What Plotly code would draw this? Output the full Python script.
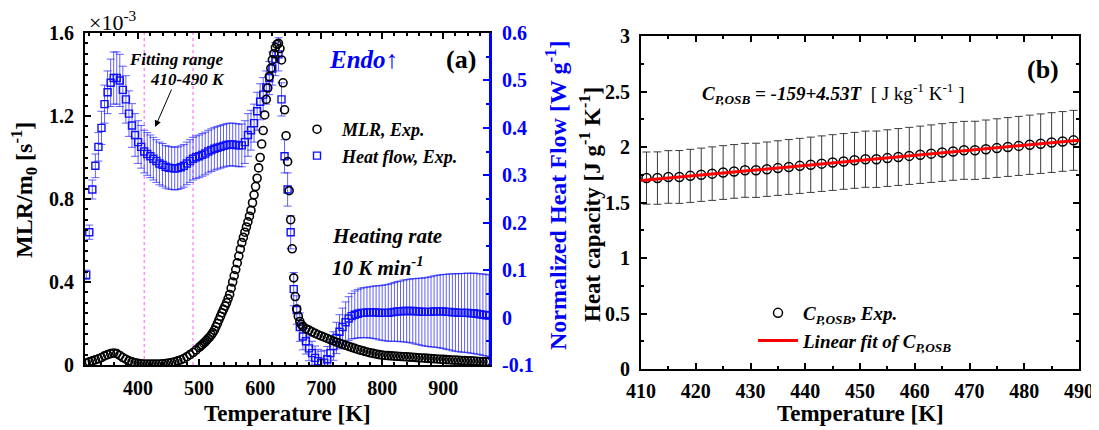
import plotly.graph_objects as go

# page is 1099x430; the HTML body has an 8 px margin, so the figure is 8 px smaller
PAGE_W, PAGE_H = 1099, 430
OFF = 8
W, H = PAGE_W - OFF, PAGE_H - OFF
FONT = "Liberation Serif"

# ---------------- Panel (a) data ----------------
# MLR / m0  [x 1e-3 s^-1], sampled finer where the curve is steep
temp_mlr_low = list(range(315, 500, 5))                    # 315 .. 495 K
mlr_low = [
    0.010, 0.015, 0.020, 0.025, 0.030, 0.036, 0.044, 0.050, 0.055, 0.058,
    0.055, 0.046, 0.036, 0.028, 0.020, 0.015, 0.011, 0.008, 0.006, 0.005,
    0.004, 0.004, 0.004, 0.004, 0.005, 0.006, 0.007, 0.009, 0.012, 0.015,
    0.020, 0.025, 0.031, 0.040, 0.050, 0.060, 0.072,
]
temp_mlr_mid = [v / 2 for v in range(1000, 1341, 5)]      # 500 .. 670 K, 2.5 K step
mlr_mid = [
    0.085, 0.091, 0.098, 0.105, 0.112, 0.120, 0.128, 0.136, 0.145, 0.156,
    0.168, 0.184, 0.200, 0.218, 0.235, 0.252, 0.268, 0.284, 0.300, 0.320,
    0.340, 0.370, 0.400, 0.430, 0.460, 0.492, 0.525, 0.558, 0.590, 0.615,
    0.640, 0.665, 0.690, 0.717, 0.745, 0.782, 0.820, 0.860, 0.900, 0.950,
    1.000, 1.065, 1.130, 1.205, 1.280, 1.335, 1.390, 1.430, 1.470, 1.500,
    1.530, 1.545, 1.550, 1.525, 1.470, 1.360, 1.230, 1.105, 0.980, 0.840,
    0.700, 0.560, 0.420, 0.330, 0.270, 0.235, 0.210, 0.195, 0.185,
]
temp_mlr_high = list(range(675, 980, 5))                   # 675 .. 975 K
mlr_high = [
    0.175, 0.168, 0.160, 0.153, 0.146, 0.140, 0.134, 0.128,
    0.122, 0.116, 0.110, 0.105, 0.100, 0.095, 0.090, 0.085, 0.080, 0.075,
    0.071, 0.067, 0.063, 0.059, 0.056, 0.053, 0.050, 0.048, 0.046, 0.045,
    0.044, 0.043, 0.042, 0.041, 0.040, 0.039, 0.038, 0.037, 0.036, 0.035,
    0.034, 0.033, 0.032, 0.031, 0.030, 0.029, 0.028, 0.027, 0.026, 0.025,
    0.024, 0.024, 0.023, 0.022, 0.021, 0.020, 0.020, 0.019, 0.018, 0.017,
    0.016, 0.016, 0.015,
]

# Normalized heat flow [W g^-1]
temp_hf = list(range(315, 980, 5))
heat_flow = [
    0.090, 0.180, 0.270, 0.320, 0.360, 0.400, 0.450, 0.475, 0.495, 0.505,
    0.505, 0.500, 0.480, 0.460, 0.430, 0.405, 0.385, 0.370, 0.360, 0.350,
    0.345, 0.340, 0.335, 0.330, 0.325, 0.322, 0.318, 0.316, 0.315, 0.314,
    0.315, 0.317, 0.320, 0.325, 0.330, 0.335, 0.338, 0.340, 0.343, 0.346,
    0.350, 0.353, 0.356, 0.358, 0.360, 0.362, 0.364, 0.365, 0.365, 0.364,
    0.363, 0.363, 0.370, 0.385, 0.395, 0.410, 0.435, 0.455, 0.470, 0.485,
    0.505, 0.525, 0.545, 0.555, 0.460, 0.340, 0.270, 0.180, 0.060, 0.016,
    -0.020, -0.040, -0.050, -0.065, -0.075, -0.085, -0.092, -0.096, -0.095, -0.088,
    -0.075, -0.060, -0.043, -0.030, -0.020, -0.010, -0.002, 0.003, 0.006, 0.008,
    0.010, 0.010, 0.011, 0.011, 0.011, 0.011, 0.010, 0.010, 0.010, 0.010,
    0.011, 0.012, 0.013, 0.013, 0.014, 0.014, 0.014, 0.014, 0.013, 0.013,
    0.012, 0.012, 0.012, 0.012, 0.013, 0.013, 0.013, 0.013, 0.012, 0.012,
    0.011, 0.011, 0.010, 0.010, 0.010, 0.010, 0.009, 0.009, 0.008, 0.007,
    0.006, 0.005, 0.004,
]
heat_flow_err = [
    0.010, 0.015, 0.020, 0.025, 0.030, 0.035, 0.040, 0.045, 0.050, 0.055,
    0.055, 0.055, 0.050, 0.050, 0.048, 0.046, 0.045, 0.045, 0.045, 0.045,
    0.045, 0.045, 0.045, 0.045, 0.045, 0.045, 0.045, 0.045, 0.045, 0.045,
    0.045, 0.045, 0.045, 0.045, 0.045, 0.045, 0.045, 0.045, 0.045, 0.045,
    0.045, 0.045, 0.045, 0.045, 0.045, 0.045, 0.045, 0.045, 0.045, 0.045,
    0.045, 0.045, 0.045, 0.045, 0.042, 0.040, 0.040, 0.038, 0.036, 0.035,
    0.035, 0.035, 0.035, 0.035, 0.035, 0.035, 0.035, 0.035, 0.035, 0.030,
    0.030, 0.028, 0.027, 0.026, 0.025, 0.025, 0.025, 0.025, 0.026, 0.027,
    0.028, 0.030, 0.033, 0.036, 0.040, 0.043, 0.046, 0.048, 0.050, 0.051,
    0.052, 0.053, 0.053, 0.054, 0.055, 0.056, 0.057, 0.058, 0.059, 0.060,
    0.061, 0.062, 0.063, 0.064, 0.065, 0.066, 0.067, 0.068, 0.069, 0.070,
    0.071, 0.072, 0.073, 0.074, 0.075, 0.076, 0.077, 0.078, 0.079, 0.080,
    0.081, 0.082, 0.082, 0.083, 0.083, 0.084, 0.084, 0.085, 0.085, 0.085,
    0.086, 0.086, 0.086,
]

fit_range = [410, 490]  # K, dashed guide lines

hf_tick_vals = [-0.1, 0, 0.1, 0.2, 0.3, 0.4, 0.5, 0.6]
hf_tick_text = ["-0.1", "0", "0.1", "0.2", "0.3", "0.4", "0.5", "0.6"]

# ---------------- Panel (b) data ----------------
temp_b = list(range(411, 490, 2))  # K
cp_exp = [
    1.72, 1.72, 1.73, 1.73, 1.74, 1.75, 1.76, 1.77, 1.78, 1.79,
    1.79, 1.80, 1.81, 1.82, 1.83, 1.84, 1.85, 1.86, 1.87, 1.88,
    1.89, 1.89, 1.90, 1.91, 1.92, 1.93, 1.94, 1.95, 1.96, 1.97,
    1.97, 1.98, 1.99, 2.00, 2.01, 2.02, 2.03, 2.04, 2.05, 2.06,
]
cp_err = [
    0.235, 0.236, 0.237, 0.238, 0.239, 0.240, 0.241, 0.242, 0.242, 0.243,
    0.244, 0.245, 0.246, 0.247, 0.248, 0.249, 0.250, 0.251, 0.251, 0.252,
    0.253, 0.254, 0.255, 0.256, 0.257, 0.258, 0.259, 0.260, 0.260, 0.261,
    0.262, 0.263, 0.264, 0.265, 0.266, 0.267, 0.268, 0.269, 0.269, 0.270,
]
fit_T = [410, 490]
fit_cp = [1.698, 2.061]

temp_mlr = temp_mlr_low + temp_mlr_mid + temp_mlr_high
mlr = mlr_low + mlr_mid + mlr_high
assert len(mlr_low) == len(temp_mlr_low), len(mlr_low)
assert len(mlr_mid) == len(temp_mlr_mid), len(mlr_mid)
assert len(mlr_high) == len(temp_mlr_high), len(mlr_high)
assert len(heat_flow) == len(temp_hf) == len(heat_flow_err)
assert len(cp_exp) == len(temp_b) == len(cp_err)


def px(x):
    """page pixel x -> paper fraction"""
    return (x - OFF) / W


def py(y):
    """page pixel y -> paper fraction"""
    return 1 - (y - OFF) / H


fig = go.Figure()

# heat flow (base y axis, right side)
fig.add_trace(go.Scatter(
    x=temp_hf, y=heat_flow, mode="markers", xaxis="x", yaxis="y",
    name="<b><i>Heat flow, Exp.</i></b>", legend="legend", legendrank=2,
    marker=dict(symbol="square-open", size=7, color="#1010ff", line=dict(width=1.4)),
    error_y=dict(type="data", array=heat_flow_err, color="rgba(30,30,255,0.7)",
                 thickness=1, width=4),
))
# MLR (overlay y axis, left side) drawn on top
fig.add_trace(go.Scatter(
    x=temp_mlr, y=mlr, mode="markers", xaxis="x", yaxis="y2",
    name="<b><i>MLR, Exp.</i></b>", legend="legend", legendrank=1,
    marker=dict(symbol="circle-open", size=8, color="black", line=dict(width=1.6)),
))

# panel (b)
fig.add_trace(go.Scatter(
    x=temp_b, y=cp_exp, mode="markers", xaxis="x2", yaxis="y3",
    name="<b><i>C<sub>P,OSB</sub></i>, <i>Exp.</i></b>", legend="legend2", legendrank=1,
    marker=dict(symbol="circle-open", size=9, color="black", line=dict(width=1.5)),
    error_y=dict(type="data", array=cp_err, color="#3a3a3a", thickness=1, width=4),
))
fig.add_trace(go.Scatter(
    x=fit_T, y=fit_cp, mode="lines", xaxis="x2", yaxis="y3",
    name="<b><i>Linear fit of C<sub>P,OSB</sub></i></b>", legend="legend2", legendrank=2,
    line=dict(color="#ff0000", width=3),
))

TF = dict(family=FONT, size=20, color="black", weight="bold")
TFB = dict(family=FONT, size=20, color="#0000ff", weight="bold")

common = dict(showgrid=False, zeroline=False, showline=True, ticks="inside", automargin=False)

fig.update_layout(
    template="none",
    width=W, height=H,
    margin=dict(l=0, r=0, t=0, b=0, pad=0),
    paper_bgcolor="white", plot_bgcolor="rgba(0,0,0,0)",
    font=dict(family=FONT, color="black"),
    xaxis=dict(
        **common, domain=[px(85), px(489)], range=[313, 975], anchor="y",
        linecolor="black", linewidth=2, mirror="ticks",
        ticklen=6, tickwidth=2, tickcolor="black", dtick=100, tick0=0,
        minor=dict(ticks="inside", ticklen=3, tickwidth=1.5, tickcolor="black", dtick=20, tick0=0),
        tickfont=TF, ticklabelstandoff=4,
    ),
    yaxis=dict(
        **common, domain=[py(365), py(33)], range=[-0.1, 0.6], anchor="x", side="right",
        linecolor="#0000ff", linewidth=3, ticklen=6, tickwidth=2, tickcolor="#0000ff",
        tickmode="array", tickvals=hf_tick_vals, ticktext=hf_tick_text,
        minor=dict(ticks="inside", ticklen=3, tickwidth=1.5, tickcolor="#0000ff",
                   tickmode="linear", tick0=0, dtick=0.05),
        tickfont=TFB, ticklabelstandoff=6,
    ),
    yaxis2=dict(
        **common, range=[0, 1.6], overlaying="y", anchor="x", side="left",
        linecolor="black", linewidth=2, ticklen=6, tickwidth=2, tickcolor="black",
        dtick=0.4, tick0=0,
        minor=dict(ticks="inside", ticklen=3, tickwidth=1.5, tickcolor="black", dtick=0.05, tick0=0),
        tickfont=TF, ticklabelstandoff=5,
    ),
    xaxis2=dict(
        **common, domain=[px(641), px(1079)], range=[410, 490], anchor="y3",
        linecolor="black", linewidth=2, mirror="ticks",
        ticklen=6, tickwidth=2, tickcolor="black", dtick=10, tick0=0,
        minor=dict(ticks="inside", ticklen=3, tickwidth=1.5, tickcolor="black", dtick=5, tick0=0),
        tickfont=TF, ticklabelstandoff=3,
    ),
    yaxis3=dict(
        **common, domain=[py(369), py(36)], range=[0, 3], anchor="x2",
        linecolor="black", linewidth=2, mirror="ticks",
        ticklen=6, tickwidth=2, tickcolor="black", dtick=0.5, tick0=0,
        minor=dict(ticks="inside", ticklen=3, tickwidth=1.5, tickcolor="black", dtick=0.25, tick0=0),
        tickfont=TF, ticklabelstandoff=5,
    ),
    legend=dict(
        x=px(292), y=py(111), xanchor="left", yanchor="top",
        bgcolor="rgba(0,0,0,0)", borderwidth=0, itemwidth=40,
        font=dict(family=FONT, size=18, color="black"), tracegroupgap=0,
    ),
    legend2=dict(
        x=px(753), y=py(294), xanchor="left", yanchor="top",
        bgcolor="rgba(0,0,0,0)", borderwidth=0, itemwidth=40,
        font=dict(family=FONT, size=19, color="black"), tracegroupgap=0,
    ),
)

# dashed fitting-range guide lines
for tx in fit_range:
    fig.add_shape(type="line", xref="x", yref="y2", x0=tx, x1=tx, y0=0, y1=1.6,
                  line=dict(color="#ff55ff", width=1, dash="dot"), layer="below")

ann = []


def add_text(x, y, text, size, color="black", xanchor="center", angle=0):
    ann.append(dict(xref="paper", yref="paper", x=px(x), y=py(y), text=text,
                    showarrow=False, xanchor=xanchor, yanchor="middle", textangle=angle,
                    font=dict(family=FONT, size=size, color=color)))


add_text(87, 21, "×10<sup>-3</sup>", 22, xanchor="left")
add_text(176, 60, "<b><i>Fitting range</i></b>", 17)
add_text(187, 79, "<b><i>410-490 K</i></b>", 17)
add_text(363, 60, "<b><i>Endo↑</i></b>", 25, color="#0000ff")
add_text(461, 60, "<b>(a)</b>", 26)
add_text(330, 236, "<b><i>Heating rate</i></b>", 21, xanchor="left")
add_text(330, 266, "<b><i>10 K min<sup>-1</sup></i></b>", 21, xanchor="left")
add_text(287, 413, "<b>Temperature [K]</b>", 23)
add_text(860, 413, "<b>Temperature [K]</b>", 23)
add_text(24, 190, "<b>MLR/m<sub>0</sub> [s<sup>-1</sup>]</b>", 24, angle=-90)
add_text(556, 196, "<b>Normalized Heat Flow [W g<sup>-1</sup>]</b>", 24, color="#0000ff", angle=-90)
add_text(590, 205, "<b>Heat capacity [J g<sup>-1</sup> K<sup>-1</sup>]</b>", 23, angle=-90)
add_text(700, 93, "<b><i>C<sub>P,OSB</sub> = -159+4.53T</i></b>  [ J kg<sup>-1</sup> K<sup>-1</sup> ]", 19, xanchor="left")
add_text(1043, 70, "<b>(b)</b>", 26)

# arrow pointing to the fitting-range minimum
ann.append(dict(xref="x", yref="y2", x=428, y=1.147, ax=17, ay=-39, axref="pixel", ayref="pixel",
                text="", showarrow=True, arrowhead=2, arrowsize=1.3, arrowwidth=1, arrowcolor="black"))

fig.update_layout(annotations=ann)

fig.write_html("out.html")
